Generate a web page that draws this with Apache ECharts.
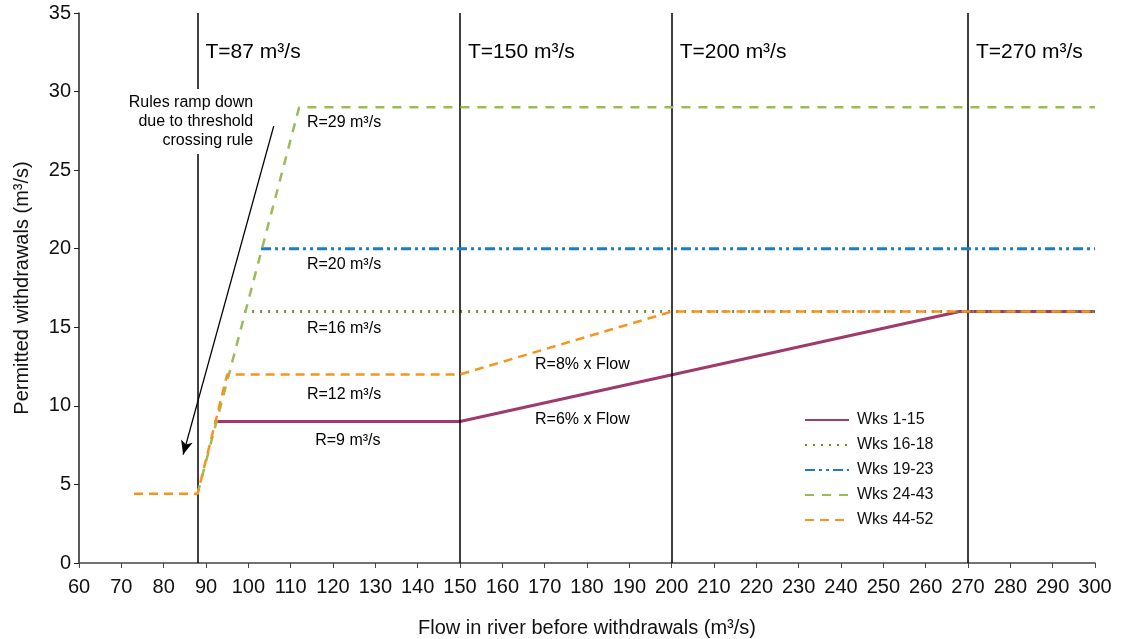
<!DOCTYPE html>
<html><head><meta charset="utf-8">
<script src="https://cdn.jsdelivr.net/npm/echarts@6/dist/echarts.min.js"></script>
<style>html,body{margin:0;padding:0;background:#fff}#c{width:1124px;height:639px}</style>
</head><body><div id="c"></div>
<script>
const seriesNames = ['Wks 1-15','Wks 16-18','Wks 19-23','Wks 24-43','Wks 44-52'];
const wks1_15  = [[92,9],[150,9],[268,16],[300,16]];
const wks16_18 = [[99,16],[300,16]];
const wks19_23 = [[103,20],[300,20]];
const wks24_43 = [[88,4.4],[112,29],[300,29]];
const wks44_52 = [[73,4.4],[88,4.4],[95,12],[150,12],[200,16],[300,16]];
const thresholds = [88,150,200,270];
const thresholdLabels = ['T=87 m³/s','T=150 m³/s','T=200 m³/s','T=270 m³/s'];
const ruleLabels = [
  {x:122.6,y:28.0,t:'R=29 m³/s'},
  {x:122.6,y:19.0,t:'R=20 m³/s'},
  {x:122.6,y:14.9,t:'R=16 m³/s'},
  {x:122.6,y:10.7,t:'R=12 m³/s'},
  {x:123.5,y:7.8,t:'R=9 m³/s'},
  {x:178.9,y:12.6,t:'R=8% x Flow'},
  {x:178.9,y:9.1,t:'R=6% x Flow'}
];
const arrowStart = [106,27.8];
const arrowEnd = [84.6,6.9];
const noteAnchor = [102.1,28.1];
const noteText = 'Rules ramp down\ndue to threshold\ncrossing rule';

const font = 'Liberation Sans, Arial, sans-serif';
const chart = echarts.init(document.getElementById('c'));
function lineSeries(name, data, color, type, width, z){
  return {name, type:'line', data, symbol:'none', z,
    lineStyle:{color, type, width}, itemStyle:{color}};
}
chart.setOption({
  animation:false,
  textStyle:{fontFamily:font},
  grid:{left:79,right:29,top:13,bottom:76,outerBoundsMode:'none',containLabel:false},
  legend:{
    orient:'vertical', left:799, top:407, itemWidth:44, itemHeight:10, itemGap:9,
    itemStyle:{opacity:0},
    textStyle:{fontFamily:font,fontSize:16,color:'#111',padding:[0,0,0,3]},
    data:seriesNames
  },
  xAxis:{type:'value',min:60,max:300,interval:10,
    name:'Flow in river before withdrawals (m³/s)',nameLocation:'middle',nameGap:55,
    nameTextStyle:{fontFamily:font,fontSize:20,color:'#111'},
    axisLine:{lineStyle:{color:'#444',width:1.5}},
    axisTick:{show:true,length:5,lineStyle:{color:'#444'}},
    axisLabel:{fontFamily:font,fontSize:20,color:'#111',margin:14},
    splitLine:{show:false}},
  yAxis:{type:'value',min:0,max:35,interval:5,
    name:'Permitted withdrawals (m³/s)',nameLocation:'middle',nameGap:47,
    nameTextStyle:{fontFamily:font,fontSize:20,color:'#111'},
    axisLine:{show:true,lineStyle:{color:'#222',width:1.5}},
    axisTick:{show:true,length:5,lineStyle:{color:'#222'}},
    axisLabel:{fontFamily:font,fontSize:20,color:'#111',margin:8},
    splitLine:{show:false}},
  series:[
    {type:'line',data:[],symbol:'none',silent:true,z:1,
      markLine:{silent:true,symbol:['none','none'],label:{show:false},
        lineStyle:{color:'#000',type:'solid',width:1.5},
        data:thresholds.map(v=>[{coord:[v,0]},{coord:[v,35]}])}},
    lineSeries('Wks 1-15',wks1_15,'#9E3A6E','solid',3,3),
    lineSeries('Wks 16-18',wks16_18,'#7A8B3A',[2,6],3,4),
    lineSeries('Wks 19-23',wks19_23,'#1F7BC8',[10,4,3,4,3,4],3,5),
    lineSeries('Wks 24-43',wks24_43,'#9BBB59',[9,8],2.5,6),
    lineSeries('Wks 44-52',wks44_52,'#F7941D',[9,6],2.5,7),
    {type:'scatter',symbolSize:0,silent:true,z:10,itemStyle:{opacity:1},
      data:thresholds.map((v,i)=>({value:[v,32.5],label:{formatter:thresholdLabels[i]}})),
      label:{show:true,position:'right',distance:8,fontFamily:font,fontSize:21,color:'#000'}},
    {type:'scatter',symbolSize:0,silent:true,z:10,itemStyle:{opacity:1},
      data:ruleLabels.map(r=>({value:[r.x,r.y],label:{formatter:r.t}})),
      label:{show:true,position:'inside',fontFamily:font,fontSize:16,color:'#000'}},
    {type:'scatter',symbolSize:0,silent:true,z:11,itemStyle:{opacity:1},
      data:[{value:noteAnchor}],
      label:{show:true,position:'left',distance:0,formatter:noteText,align:'right',
        fontFamily:font,fontSize:16,lineHeight:19,color:'#000',
        backgroundColor:'#fff',padding:[4,4,4,10]}},
    {type:'line',data:[],symbol:'none',silent:true,z:12,
      markLine:{silent:true,symbol:['none','arrow'],symbolSize:[9,14],label:{show:false},
        lineStyle:{color:'#000',type:'solid',width:1.3},
        data:[[{coord:arrowStart},{coord:arrowEnd}]]}}
  ]
});
</script></body></html>
